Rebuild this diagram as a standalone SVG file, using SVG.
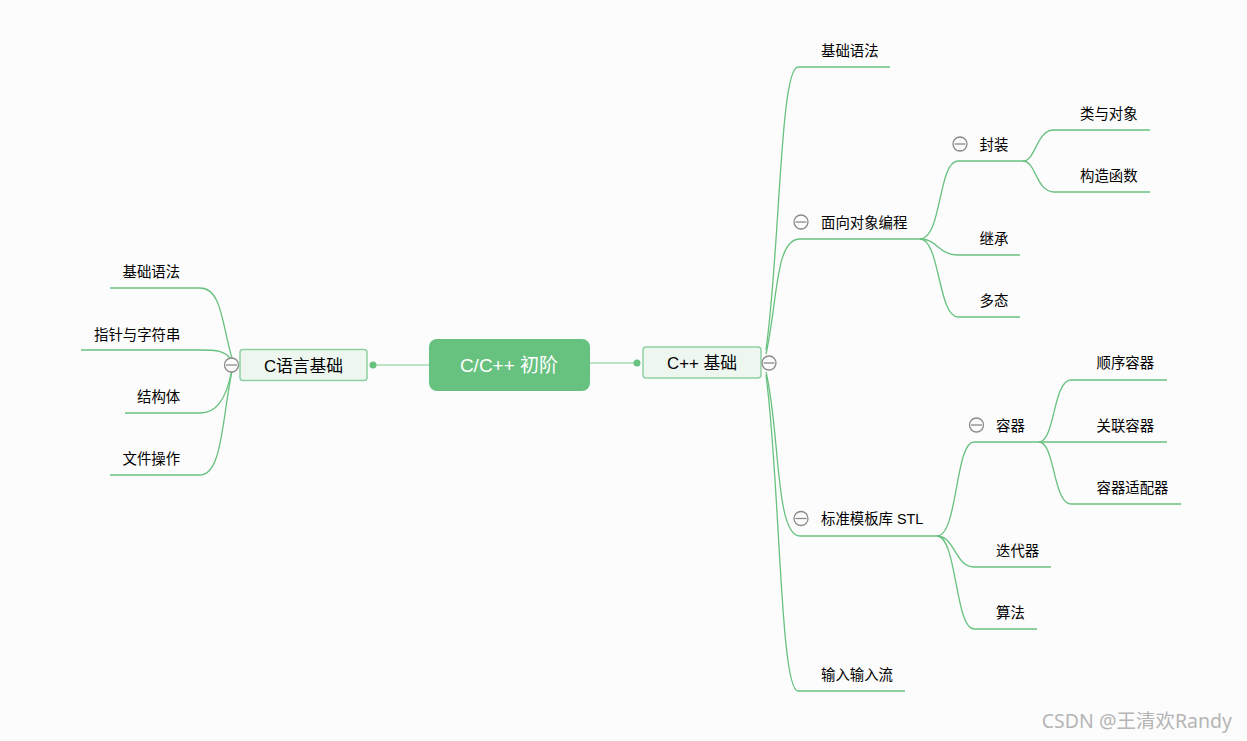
<svg xmlns="http://www.w3.org/2000/svg" width="1247" height="741" viewBox="0 0 1247 741">
<style>
text{font-family:"Liberation Sans","Noto Sans CJK SC",sans-serif;fill:#000}
.t{font-size:14.400px}
.m{font-size:16.800px;text-anchor:middle}
.c{fill:none;stroke:#67c17f;stroke-width:1.300}
.s{fill:none;stroke:#a9dbb6;stroke-width:1.500}
.box{fill:#edf7f0;stroke:#8fd0a1;stroke-width:1.500}
.dot{fill:#67c17f}
.tg circle{fill:#fcfcfc;stroke:#8a8a8a;stroke-width:1.300}
.tg line{stroke:#8a8a8a;stroke-width:1.300}
</style>
<rect width="1247" height="741" fill="#fcfcfc"/>
<g id="connectors">
<path class="s" d="M429 365H373"/><circle class="dot" cx="373" cy="365" r="3.500"/>
<path class="s" d="M590 363H637"/><circle class="dot" cx="637" cy="363" r="3.500"/>
<path class="c" d="M232 358C222 325 222 288 200 288H110"/>
<path class="c" d="M232 361C226 350 215 350 200 350H81"/>
<path class="c" d="M232 369C226 402 215 413 200 413H125"/>
<path class="c" d="M232 371C222 420 222 475 200 475H110"/>
<path class="c" d="M766 350C780 250 780 67 798 67H890"/>
<path class="c" d="M766 354C778 300 775 239 800 239H920"/>
<path class="c" d="M766 372C780 430 775 536 800 536H937"/>
<path class="c" d="M766 375C780 480 780 691 798 691H905"/>
<path class="c" d="M920 239C942 239 938 161 958 161H1023"/>
<path class="c" d="M920 239C938 239 938 255 958 255H1020"/>
<path class="c" d="M920 239C940 239 938 317 958 317H1020"/>
<path class="c" d="M1023 161C1036 161 1036 130 1054 130H1150"/>
<path class="c" d="M1023 161C1036 161 1036 192 1054 192H1150"/>
<path class="c" d="M937 536C958 536 955 442 974 442H1039"/>
<path class="c" d="M937 536C955 536 955 567 974 567H1051"/>
<path class="c" d="M937 536C957 536 955 629 974 629H1037"/>
<path class="c" d="M1039 442C1055 442 1053 380 1071 380H1167"/>
<path class="c" d="M1039 442H1167"/>
<path class="c" d="M1039 442C1055 442 1053 504 1071 504H1181"/>
</g>
<g id="root"><rect x="429" y="339" width="161" height="52" rx="8" fill="#67c17f"/><text x="509" y="371.500" font-size="19" text-anchor="middle" style="fill:#fff">C/C++ 初阶</text></g>
<g id="c-basic"><rect class="box" x="240" y="349.500" width="127" height="31" rx="3"/><text class="m" x="303.500" y="371.500">C语言基础</text></g>
<g id="cpp-basic"><rect class="box" x="643" y="347" width="118" height="31" rx="3"/><text class="m" x="702" y="368.500">C++ 基础</text></g>
<g id="toggle-c" class="tg"><circle cx="231.500" cy="365" r="7"/><line x1="226" y1="365" x2="237" y2="365"/></g>
<g id="toggle-cpp" class="tg"><circle cx="769" cy="363" r="7"/><line x1="763.500" y1="363" x2="774.500" y2="363"/></g>
<g id="toggle-oop" class="tg"><circle cx="801" cy="222" r="7"/><line x1="795.500" y1="222" x2="806.500" y2="222"/></g>
<g id="toggle-fz" class="tg"><circle cx="960" cy="144" r="7"/><line x1="954.500" y1="144" x2="965.500" y2="144"/></g>
<g id="toggle-rq" class="tg"><circle cx="976.500" cy="425" r="7"/><line x1="971" y1="425" x2="982" y2="425"/></g>
<g id="toggle-stl" class="tg"><circle cx="801" cy="518.500" r="7"/><line x1="795.500" y1="518.500" x2="806.500" y2="518.500"/></g>
<g id="n1"><text class="t" x="122.500" y="277">基础语法</text></g>
<g id="n2"><text class="t" x="94" y="340">指针与字符串</text></g>
<g id="n3"><text class="t" x="137" y="402">结构体</text></g>
<g id="n4"><text class="t" x="122.500" y="464">文件操作</text></g>
<g id="n5"><text class="t" x="821" y="56">基础语法</text></g>
<g id="n6"><text class="t" x="821" y="228">面向对象编程</text></g>
<g id="n7"><text class="t" x="979.500" y="150">封装</text></g>
<g id="n8"><text class="t" x="1080" y="119">类与对象</text></g>
<g id="n9"><text class="t" x="1080" y="181">构造函数</text></g>
<g id="n10"><text class="t" x="979.500" y="244">继承</text></g>
<g id="n11"><text class="t" x="979.500" y="306">多态</text></g>
<g id="n12"><text class="t" x="821" y="524">标准模板库 STL</text></g>
<g id="n13"><text class="t" x="996" y="431">容器</text></g>
<g id="n14"><text class="t" x="1096.500" y="368">顺序容器</text></g>
<g id="n15"><text class="t" x="1096.500" y="431">关联容器</text></g>
<g id="n16"><text class="t" x="1096.500" y="493">容器适配器</text></g>
<g id="n17"><text class="t" x="996" y="556">迭代器</text></g>
<g id="n18"><text class="t" x="996" y="618">算法</text></g>
<g id="n19"><text class="t" x="821" y="680">输入输入流</text></g>
<text x="1232" y="727.500" font-size="19.500" text-anchor="end" style="fill:#b5b5b5;font-family:'Noto Sans','Noto Sans CJK SC',sans-serif">CSDN @王清欢Randy</text>
</svg>
